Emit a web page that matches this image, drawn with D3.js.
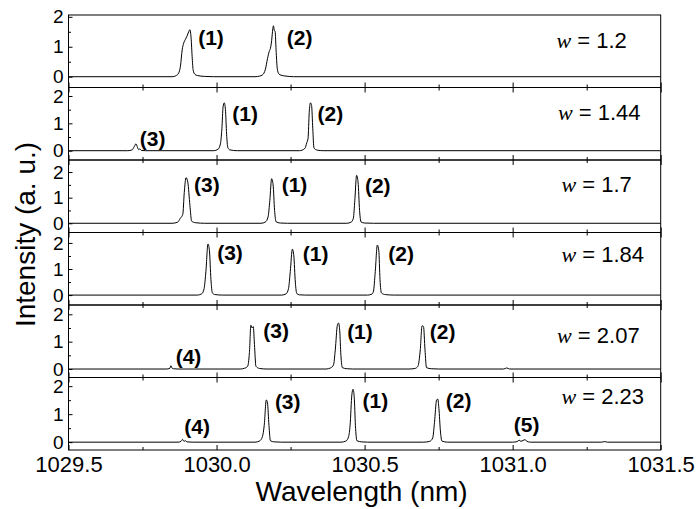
<!DOCTYPE html>
<html><head><meta charset="utf-8">
<script src="https://cdn.jsdelivr.net/npm/d3@7"></script>
<style>
html,body{margin:0;padding:0;background:#fff;}
svg{display:block;font-family:"Liberation Sans",Arial,sans-serif;}
</style></head>
<body><svg id="chart" width="697" height="509"></svg>
<script>
// ---------- data ----------
const wValues = ["1.2", "1.44", "1.7", "1.84", "2.07", "2.23"];
const yMin = [-0.36, -0.34, -0.36, -0.38, -0.31, -0.28];
const yMax = [2.06, 2.31, 2.47, 2.40, 2.34, 2.31];
const xTicksMajor = [1029.5, 1030.0, 1030.5, 1031.0, 1031.5];
const xTicksMinor = [1029.75, 1030.25, 1030.75, 1031.25];
const xTickLabels = ["1029.5", "1030.0", "1030.5", "1031.0", "1031.5"];
const yTicksMajor = [0, 1, 2];
const yTicksMinor = [0.5, 1.5];

// spectra: [wavelength (nm), intensity (a.u.)]
const spectrumW120 = [[1029.5,0],[1029.85,0],[1029.862,0.03],[1029.872,0.12],[1029.878,0.35],[1029.884,0.9],[1029.889,1.12],[1029.895,1.25],[1029.9,1.35],[1029.906,1.5],[1029.91,1.57],[1029.914,1.3],[1029.918,0.6],[1029.921,0.22],[1029.927,0.08],[1029.935,0.04],[1029.96,0.01],[1029.99,0],
  [1030.13,0],[1030.145,0.02],[1030.155,0.06],[1030.165,0.25],[1030.172,0.6],[1030.178,0.85],[1030.182,0.95],[1030.186,1.2],[1030.19,1.6],[1030.192,1.7],[1030.195,1.55],[1030.198,1.5],[1030.201,0.9],[1030.205,0.28],[1030.21,0.1],[1030.218,0.05],[1030.235,0.02],[1030.26,0],[1031.5,0]];
const spectrumW144 = [[1029.5,0],[1029.70,0],[1029.715,0.03],[1029.722,0.15],[1029.728,0.25],[1029.733,0.12],[1029.737,0.04],[1029.741,0.07],[1029.746,0.01],[1029.76,0],
  [1029.99,0],[1030.005,0.05],[1030.013,0.25],[1030.018,0.8],[1030.022,1.6],[1030.026,1.75],[1030.030,1.5],[1030.034,0.6],[1030.038,0.12],[1030.045,0.03],[1030.07,0],
  [1030.28,0],[1030.298,0.08],[1030.305,0.3],[1030.309,0.45],[1030.313,1.4],[1030.317,1.75],[1030.321,1.65],[1030.325,0.8],[1030.329,0.1],[1030.34,0.02],[1030.36,0],[1031.5,0]];
const spectrumW170 = [[1029.5,0],[1029.85,0],[1029.868,0.04],[1029.878,0.2],[1029.886,0.35],[1029.891,1.2],[1029.897,1.78],[1029.903,1.6],[1029.91,0.7],[1029.916,0.08],[1029.93,0.02],[1029.96,0],
  [1030.15,0],[1030.165,0.05],[1030.174,0.25],[1030.18,0.9],[1030.186,1.74],[1030.191,1.5],[1030.196,0.5],[1030.201,0.06],[1030.215,0.01],[1030.24,0],
  [1030.44,0],[1030.455,0.05],[1030.462,0.2],[1030.467,0.9],[1030.473,1.87],[1030.478,1.6],[1030.483,0.5],[1030.488,0.05],[1030.50,0.01],[1030.53,0],[1031.5,0]];
const spectrumW184 = [[1029.5,0],[1029.935,0],[1029.95,0.05],[1029.958,0.25],[1029.964,0.9],[1029.971,1.96],[1029.976,1.7],[1029.981,0.6],[1029.986,0.08],[1029.995,0.02],[1030.02,0],
  [1030.22,0],[1030.235,0.05],[1030.243,0.25],[1030.249,0.9],[1030.256,1.76],[1030.261,1.5],[1030.266,0.5],[1030.271,0.06],[1030.28,0.01],[1030.30,0],
  [1030.51,0],[1030.525,0.04],[1030.53,0.15],[1030.536,0.9],[1030.543,1.92],[1030.548,1.7],[1030.552,0.6],[1030.557,0.08],[1030.57,0.02],[1030.60,0],[1031.5,0]];
const spectrumW207 = [[1029.5,0],[1029.83,0],[1029.842,0.02],[1029.846,0.12],[1029.85,0.03],[1029.855,0.01],[1029.87,0],
  [1030.08,0],[1030.095,0.03],[1030.105,0.1],[1030.111,0.6],[1030.116,1.6],[1030.12,1.5],[1030.124,1.55],[1030.128,0.9],[1030.133,0.1],[1030.145,0.02],[1030.17,0],
  [1030.37,0],[1030.385,0.04],[1030.395,0.15],[1030.401,0.7],[1030.408,1.6],[1030.412,1.68],[1030.416,1.4],[1030.42,0.5],[1030.425,0.05],[1030.44,0.01],[1030.46,0],
  [1030.65,0],[1030.67,0.02],[1030.68,0.1],[1030.688,0.7],[1030.694,1.58],[1030.699,1.55],[1030.704,0.7],[1030.709,0.05],[1030.725,0.01],[1030.75,0],
  [1030.97,0],[1030.98,0.04],[1030.99,0],[1031.5,0]];
const spectrumW223 = [[1029.5,0],[1029.87,0],[1029.88,0.03],[1029.885,0.1],[1029.89,0.03],[1029.895,0.05],[1029.90,0.01],[1029.92,0],
  [1030.13,0],[1030.145,0.04],[1030.155,0.2],[1030.161,0.6],[1030.168,1.51],[1030.172,1.4],[1030.177,0.6],[1030.182,0.05],[1030.195,0.01],[1030.22,0],
  [1030.42,0],[1030.437,0.04],[1030.446,0.2],[1030.451,0.6],[1030.457,1.7],[1030.461,1.89],[1030.465,1.6],[1030.469,0.6],[1030.474,0.05],[1030.49,0.01],[1030.51,0],
  [1030.70,0],[1030.72,0.03],[1030.73,0.15],[1030.736,0.7],[1030.743,1.5],[1030.747,1.54],[1030.751,1.2],[1030.756,0.4],[1030.761,0.04],[1030.78,0],
  [1031.0,0],[1031.015,0.02],[1031.022,0.07],[1031.028,0.03],[1031.035,0.06],[1031.042,0.09],[1031.048,0.03],[1031.06,0],
  [1031.30,0],[1031.311,0.02],[1031.32,0],[1031.5,0]];
const spectra = [spectrumW120, spectrumW144, spectrumW170, spectrumW184, spectrumW207, spectrumW223];

// peak labels: [text, wavelength, intensity]
const peakLabelsW120 = [["(1)",1029.938,1.29],["(2)",1030.237,1.29]];
const peakLabelsW144 = [["(3)",1029.741,0.45],["(1)",1030.053,1.36],["(2)",1030.341,1.36]];
const peakLabelsW170 = [["(3)",1029.924,1.51],["(1)",1030.220,1.51],["(2)",1030.501,1.45]];
const peakLabelsW184 = [["(3)",1030.002,1.64],["(1)",1030.291,1.6],["(2)",1030.58,1.6]];
const peakLabelsW207 = [["(4)",1029.862,0.45],["(3)",1030.158,1.42],["(1)",1030.441,1.36],["(2)",1030.72,1.36]];
const peakLabelsW223 = [["(4)",1029.891,0.56],["(3)",1030.197,1.45],["(1)",1030.493,1.49],["(2)",1030.774,1.49],["(5)",1031.004,0.62]];
const peakLabels = [peakLabelsW120, peakLabelsW144, peakLabelsW170, peakLabelsW184, peakLabelsW207, peakLabelsW223];
// position of "w = ..." labels: [wavelength, intensity]
const wLabelPos = [[1031.148,1.2],[1031.153,1.42],[1031.165,1.51],[1031.165,1.57],[1031.150,1.24],[1031.165,1.63]];

// ---------- layout ----------
const plotLeft = 68.5, plotRight = 660.7, plotTop = 15, plotBottom = 450;
const nP = spectra.length;
const panelH = (plotBottom - plotTop) / nP;

const svg = d3.select("#chart");
const x = d3.scaleLinear().domain([1029.5, 1031.5]).range([plotLeft, plotRight]);

spectra.forEach((data, i) => {
  const g = svg.append("g").attr("transform", `translate(0,${plotTop + i * panelH})`);
  const y = d3.scaleLinear().domain([yMin[i], yMax[i]]).range([panelH, 0]);

  g.append("path")
    .datum(data)
    .attr("fill", "none")
    .attr("stroke", "#000")
    .attr("stroke-width", 1)
    .attr("d", d3.line().x(d => x(d[0])).y(d => y(d[1])).curve(d3.curveMonotoneX));

  g.append("rect").attr("x", plotLeft).attr("y", 0).attr("width", plotRight - plotLeft).attr("height", panelH)
    .attr("fill", "none").attr("stroke", "#000").attr("stroke-width", 1);

  const ya = g.append("g").attr("transform", `translate(${plotLeft},0)`)
    .call(d3.axisLeft(y).tickValues(yTicksMajor).tickSize(-4).tickPadding(5).tickFormat(d3.format("d")));
  ya.select(".domain").remove();
  ya.selectAll("text").attr("font-size", 19).attr("font-family", "Liberation Sans, Arial, sans-serif").attr("fill", "#000");
  ya.selectAll("line").attr("stroke", "#000");
  const ym = g.append("g").attr("transform", `translate(${plotLeft},0)`)
    .call(d3.axisLeft(y).tickValues(yTicksMinor).tickSize(-2.5).tickFormat(""));
  ym.select(".domain").remove();
  ym.selectAll("line").attr("stroke", "#000");

  const xb = g.append("g").attr("transform", `translate(0,${panelH})`)
    .call(d3.axisBottom(x).tickValues(xTicksMajor).tickSize(-5).tickPadding(6)
      .tickFormat((d, k) => i === nP - 1 ? xTickLabels[k] : ""));
  xb.select(".domain").remove();
  xb.selectAll("line").attr("stroke", "#000");
  xb.selectAll("text").attr("font-size", 22).attr("font-family", "Liberation Sans, Arial, sans-serif").attr("fill", "#000");
  const xbm = g.append("g").attr("transform", `translate(0,${panelH})`)
    .call(d3.axisBottom(x).tickValues(xTicksMinor).tickSize(-3).tickFormat(""));
  xbm.select(".domain").remove();
  xbm.selectAll("line").attr("stroke", "#000");

  if (i > 0) {
    const xt = g.append("g").call(d3.axisTop(x).tickValues(xTicksMajor).tickSize(-5).tickFormat(""));
    xt.select(".domain").remove();
    xt.selectAll("line").attr("stroke", "#000");
    const xtm = g.append("g").call(d3.axisTop(x).tickValues(xTicksMinor).tickSize(-3).tickFormat(""));
    xtm.select(".domain").remove();
    xtm.selectAll("line").attr("stroke", "#000");
  }

  g.selectAll("text.peak").data(peakLabels[i]).enter().append("text")
    .attr("class", "peak")
    .attr("x", d => x(d[1]))
    .attr("y", d => y(d[2]))
    .attr("dy", "0.35em")
    .attr("font-size", 21)
    .attr("font-weight", "bold")
    .attr("fill", "#000")
    .text(d => d[0]);

  const wl = g.append("text")
    .attr("x", x(wLabelPos[i][0]))
    .attr("y", y(wLabelPos[i][1]))
    .attr("dy", "0.35em")
    .attr("font-size", 22)
    .attr("fill", "#000");
  wl.append("tspan").attr("font-family", "Liberation Serif, Times New Roman, serif").attr("font-style", "italic").text("w");
  wl.append("tspan").text(" = " + wValues[i]);
});

svg.append("text")
  .attr("x", (plotLeft + plotRight) / 2 - 3)
  .attr("y", 501)
  .attr("text-anchor", "middle")
  .attr("font-size", 28)
  .attr("fill", "#000")
  .text("Wavelength (nm)");

svg.append("text")
  .attr("transform", "translate(35,234.5) rotate(-90)")
  .attr("text-anchor", "middle")
  .attr("font-size", 28)
  .attr("fill", "#000")
  .text("Intensity (a. u.)");
</script>
</body></html>
